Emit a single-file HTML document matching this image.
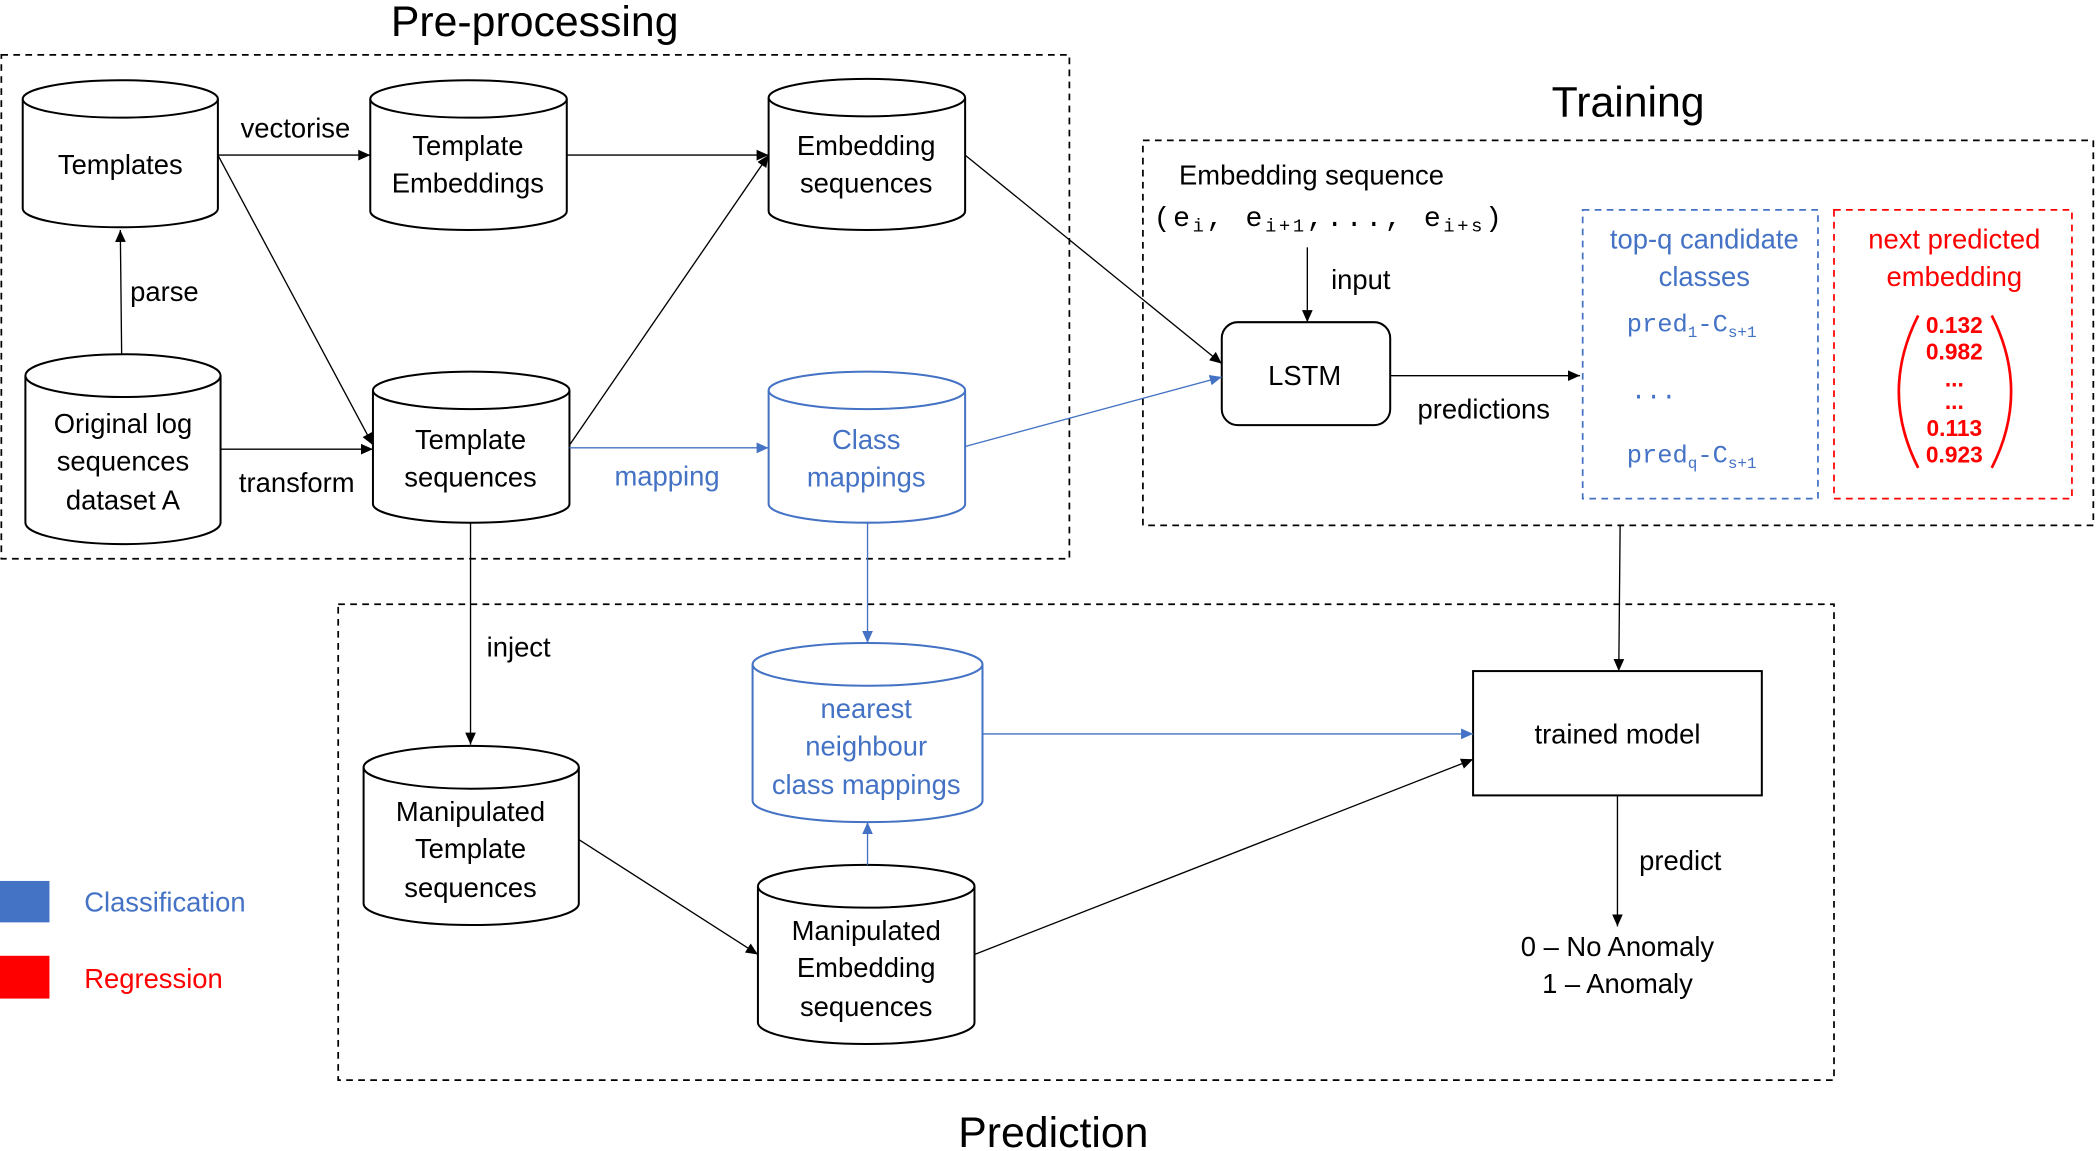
<!DOCTYPE html>
<html><head><meta charset="utf-8"><style>
html,body{margin:0;padding:0;background:#fff}
svg{display:block}
text{font-family:"Liberation Sans",sans-serif;fill:#000}
.b{fill:#4472C4}.r{fill:#f00}
.m{font-family:"Liberation Mono",monospace}
</style></head><body>
<svg width="2096" height="1151" viewBox="0 0 1568 861" xmlns="http://www.w3.org/2000/svg" style="font-size:20.5px">
<defs>
<marker id="a" markerWidth="10" markerHeight="10" refX="9" refY="5" orient="auto" markerUnits="userSpaceOnUse"><path d="M0,1 L9,5 L0,9z" fill="#000"/></marker>
<marker id="ab" markerWidth="10" markerHeight="10" refX="9" refY="5" orient="auto" markerUnits="userSpaceOnUse"><path d="M0,1 L9,5 L0,9z" fill="#4472C4"/></marker>
</defs>
<g fill="none" stroke="#000" stroke-width="1.3" stroke-dasharray="5,4">
<rect x="1" y="41" width="799" height="377"/>
<rect x="855" y="105" width="711" height="288"/>
<rect x="253" y="452" width="1119" height="356"/>
</g>
<rect x="1184" y="157" width="176" height="216" fill="none" stroke="#4472C4" stroke-width="1.3" stroke-dasharray="5,4"/>
<rect x="1372" y="157" width="178" height="216" fill="none" stroke="#f00" stroke-width="1.3" stroke-dasharray="5,4"/>
<text x="400" y="27" style="font-size:32px" text-anchor="middle">Pre-processing</text>
<text x="1218" y="87" style="font-size:32px" text-anchor="middle">Training</text>
<text x="788" y="858" style="font-size:32px" text-anchor="middle">Prediction</text>
<g fill="#fff" stroke="#000" stroke-width="1.5">
<path d="M17,74 V156 A73,14 0 0 0 163,156 V74"/><ellipse cx="90" cy="74" rx="73" ry="14"/>
<path d="M277,74 V158 A73.5,14 0 0 0 424,158 V74"/><ellipse cx="350.5" cy="74" rx="73.5" ry="14"/>
<path d="M575,73 V158 A73.5,14 0 0 0 722,158 V73"/><ellipse cx="648.5" cy="73" rx="73.5" ry="14"/>
<path d="M19,281 V391 A73,16 0 0 0 165,391 V281"/><ellipse cx="92" cy="281" rx="73" ry="16"/>
<path d="M279,292 V377 A73.5,14 0 0 0 426,377 V292"/><ellipse cx="352.5" cy="292" rx="73.5" ry="14"/>
<path d="M272,574 V676 A80.5,16 0 0 0 433,676 V574"/><ellipse cx="352.5" cy="574" rx="80.5" ry="16"/>
<path d="M567,663 V765 A81,16 0 0 0 729,765 V663"/><ellipse cx="648" cy="663" rx="81" ry="16"/>
</g>
<g fill="#fff" stroke="#4472C4" stroke-width="1.5">
<path d="M575,292 V377 A73.5,14 0 0 0 722,377 V292"/><ellipse cx="648.5" cy="292" rx="73.5" ry="14"/>
<path d="M563,497 V599 A86,16 0 0 0 735,599 V497"/><ellipse cx="649" cy="497" rx="86" ry="16"/>
</g>
<rect x="914" y="241" width="126" height="77" rx="12" fill="#fff" stroke="#000" stroke-width="1.5"/>
<rect x="1102" y="502" width="216" height="93" fill="#fff" stroke="#000" stroke-width="1.5"/>
<g stroke="#000" stroke-width="1" fill="none" marker-end="url(#a)">
<line x1="163" y1="116" x2="277" y2="116"/>
<line x1="424" y1="116" x2="575" y2="116"/>
<line x1="163" y1="116" x2="279" y2="333"/>
<line x1="426" y1="333" x2="575" y2="116"/>
<line x1="165" y1="336" x2="279" y2="336"/>
<line x1="91" y1="265" x2="90" y2="172"/>
<line x1="722" y1="116" x2="914" y2="272"/>
<line x1="978" y1="185" x2="978" y2="241"/>
<line x1="1040" y1="281" x2="1182" y2="281"/>
<line x1="1212" y1="393" x2="1211" y2="502"/>
<line x1="352" y1="391" x2="352" y2="557"/>
<line x1="433" y1="628" x2="567" y2="714"/>
<line x1="729" y1="714" x2="1102" y2="568"/>
<line x1="1210" y1="595" x2="1210" y2="693"/>
</g>
<g stroke="#4472C4" stroke-width="1" fill="none" marker-end="url(#ab)">
<line x1="426" y1="335" x2="575" y2="335"/>
<line x1="722" y1="334" x2="914" y2="282"/>
<line x1="649" y1="391" x2="649" y2="481"/>
<line x1="649" y1="647" x2="649" y2="615"/>
<line x1="735" y1="549" x2="1102" y2="549"/>
</g>
<g text-anchor="middle">
<text x="90" y="130">Templates</text>
<text x="350" y="116">Template</text><text x="350" y="144">Embeddings</text>
<text x="648" y="116">Embedding</text><text x="648" y="144">sequences</text>
<text x="92" y="324">Original log</text><text x="92" y="352">sequences</text><text x="92" y="381">dataset A</text>
<text x="352" y="336">Template</text><text x="352" y="364">sequences</text>
<text x="648" y="336" class="b">Class</text><text x="648" y="364" class="b">mappings</text>
<text x="221" y="103">vectorise</text>
<text x="123" y="225">parse</text>
<text x="222" y="368">transform</text>
<text x="499" y="363" class="b">mapping</text>
<text x="976" y="288">LSTM</text>
<text x="1018" y="216">input</text>
<text x="1110" y="313">predictions</text>
<text x="1275" y="186" class="b">top-q candidate</text><text x="1275" y="214" class="b">classes</text>
<text x="1462" y="186" class="r">next predicted</text><text x="1462" y="214" class="r">embedding</text>
<text x="388" y="491">inject</text>
<text x="648" y="537" class="b">nearest</text><text x="648" y="565" class="b">neighbour</text><text x="648" y="594" class="b">class mappings</text>
<text x="352" y="614">Manipulated</text><text x="352" y="642">Template</text><text x="352" y="671">sequences</text>
<text x="648" y="703">Manipulated</text><text x="648" y="731">Embedding</text><text x="648" y="760">sequences</text>
<text x="1210" y="556">trained model</text>
<text x="1257" y="651">predict</text>
<text x="1210" y="715">0 – No Anomaly</text><text x="1210" y="743">1 – Anomaly</text>
</g>
<text x="882" y="138">Embedding sequence</text>
<text x="863" y="169" class="m" style="font-size:21px;letter-spacing:2px">(e<tspan style="font-size:14px" dy="4">i</tspan><tspan dy="-4">, e</tspan><tspan style="font-size:14px" dy="4">i+1</tspan><tspan dy="-4">,..., e</tspan><tspan style="font-size:14px" dy="4">i+s</tspan><tspan dy="-4">)</tspan></text>
<text x="1217" y="248" class="m b" style="font-size:19px">pred<tspan style="font-size:12px" dy="4">1</tspan><tspan dy="-4">-C</tspan><tspan style="font-size:12px" dy="4">s+1</tspan></text>
<text x="1220" y="298" class="m b" style="font-size:19px">...</text>
<text x="1217" y="346" class="m b" style="font-size:19px">pred<tspan style="font-size:12px" dy="4">q</tspan><tspan dy="-4">-C</tspan><tspan style="font-size:12px" dy="4">s+1</tspan></text>
<g text-anchor="middle" font-weight="bold" style="font-size:17px">
<text x="1462" y="249" class="r">0.132</text>
<text x="1462" y="269" class="r">0.982</text>
<text x="1462" y="289" class="r">...</text>
<text x="1462" y="306" class="r">...</text>
<text x="1462" y="326" class="r">0.113</text>
<text x="1462" y="346" class="r">0.923</text>
</g>
<path d="M1435,236 Q1406,293 1435,350" fill="none" stroke="#f00" stroke-width="2"/>
<path d="M1490,236 Q1519,293 1490,350" fill="none" stroke="#f00" stroke-width="2"/>
<rect x="0" y="659" width="37" height="31" fill="#4472C4"/>
<rect x="0" y="715" width="37" height="32" fill="#f00"/>
<text x="63" y="682" class="b">Classification</text>
<text x="63" y="739" class="r">Regression</text>
</svg>
</body></html>
